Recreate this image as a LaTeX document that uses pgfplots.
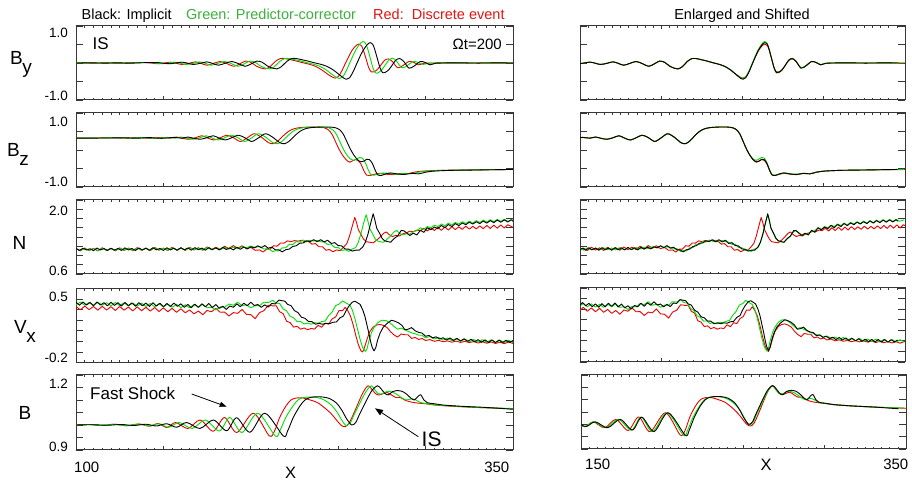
\documentclass[border=0pt]{standalone}
\usepackage{fontspec}
\setmainfont{Liberation Sans}
\usepackage{pgfplots}
\usepackage{pgfplotstable}
\pgfplotsset{compat=1.18}
\usetikzlibrary{arrows.meta}
\definecolor{lgreen}{RGB}{0,225,0}
\definecolor{lred}{RGB}{235,0,0}
\definecolor{tgreen}{RGB}{60,175,60}
\definecolor{tred}{RGB}{225,20,20}
\definecolor{frm}{RGB}{55,55,55}

% ---------------- By ----------------
\pgfplotstableread[row sep=\\]{x y\\
100 0\\ 110 0.002\\ 117 -0.003\\ 124 0.004\\ 131 -0.005\\ 139 0.008\\ 146.5 0.012\\ 153.5 -0.02\\ 160.5 0.022\\ 164 -0.008\\ 167.1 -0.04\\ 171 -0.01\\ 174.8 0.03\\ 178 -0.01\\ 181.4 -0.06\\ 185.2 -0.01\\ 189.1 0.04\\ 193 -0.02\\ 196.7 -0.09\\ 200 -0.03\\ 203.4 0.05\\ 206.5 0.02\\ 209.5 -0.08\\ 212.5 -0.14\\ 214.8 -0.16\\ 217.5 -0.10\\ 220.5 0.04\\ 223.4 0.12\\ 226 0.12\\ 229 0.09\\ 232 0.06\\ 236 0.01\\ 239.6 -0.03\\ 243.5 -0.09\\ 247.2 -0.19\\ 251 -0.33\\ 253.5 -0.42\\ 254.8 -0.44\\ 256.5 -0.40\\ 258.5 -0.24\\ 260.6 -0.02\\ 262.5 0.18\\ 264.4 0.35\\ 266.5 0.49\\ 268.2 0.55\\ 269.8 0.50\\ 271 0.35\\ 272.5 0.10\\ 274 -0.14\\ 275.4 -0.26\\ 277 -0.25\\ 279 -0.18\\ 281 -0.05\\ 283 0.08\\ 285.2 0.12\\ 287.5 0.04\\ 290.5 -0.14\\ 293.5 -0.08\\ 297 0.04\\ 300 0.01\\ 302.5 -0.05\\ 305.5 -0.01\\ 310 0\\ 320 0.003\\ 330 -0.002\\ 340 0.002\\ 350 0\\
}\byK
\pgfplotstableread[row sep=\\]{x y\\
96 0\\ 106 0.003\\ 113 -0.003\\ 120 0.004\\ 127 -0.005\\ 135 0.008\\ 142.5 0.012\\ 149.5 -0.02\\ 156.5 0.022\\ 160 -0.008\\ 163.1 -0.04\\ 167 -0.01\\ 170.8 0.03\\ 174 -0.01\\ 177.4 -0.06\\ 181.2 -0.01\\ 185.1 0.04\\ 189 -0.02\\ 192.7 -0.09\\ 196 -0.03\\ 199.4 0.05\\ 202.5 0.02\\ 205.5 -0.08\\ 208.5 -0.14\\ 210.8 -0.16\\ 213.5 -0.10\\ 216.5 0.04\\ 219.4 0.12\\ 222 0.12\\ 225 0.09\\ 228 0.06\\ 232 0.01\\ 235.6 -0.03\\ 239.5 -0.09\\ 243.2 -0.19\\ 247 -0.33\\ 249.5 -0.40\\ 250.8 -0.42\\ 252.5 -0.38\\ 254.5 -0.22\\ 256.6 0.0\\ 258.5 0.20\\ 260.4 0.38\\ 262.5 0.52\\ 264.2 0.58\\ 265.8 0.52\\ 267 0.36\\ 268.5 0.10\\ 270 -0.15\\ 271.4 -0.27\\ 273 -0.26\\ 275 -0.18\\ 277 -0.05\\ 279 0.08\\ 281.2 0.13\\ 283.5 0.04\\ 286.5 -0.13\\ 289.5 -0.07\\ 293 0.04\\ 296 0.01\\ 298.5 -0.04\\ 301.5 -0.01\\ 306 0\\ 316 0.003\\ 326 -0.002\\ 336 0.002\\ 350 0\\
}\byG
\pgfplotstableread[row sep=\\]{x y\\
100 0\\ 103.5 0.002\\ 110.5 -0.003\\ 117.5 0.004\\ 124.5 -0.005\\ 132.5 0.008\\ 140 0.012\\ 147 -0.02\\ 154 0.022\\ 157.5 -0.008\\ 160.6 -0.04\\ 164.5 -0.01\\ 168.3 0.03\\ 171.5 -0.01\\ 174.9 -0.06\\ 178.7 -0.01\\ 182.6 0.04\\ 186.5 -0.02\\ 190.2 -0.09\\ 193.5 -0.03\\ 196.9 0.05\\ 200 0.02\\ 203 -0.08\\ 206 -0.14\\ 208.3 -0.16\\ 211 -0.10\\ 214 0.04\\ 216.9 0.12\\ 219.5 0.12\\ 222.5 0.09\\ 225.5 0.06\\ 229.5 0.01\\ 233.1 -0.03\\ 237 -0.09\\ 240.7 -0.19\\ 244.5 -0.32\\ 247 -0.39\\ 248.3 -0.41\\ 250 -0.37\\ 252 -0.22\\ 254.1 -0.01\\ 256 0.17\\ 257.9 0.34\\ 260 0.46\\ 261.7 0.51\\ 263.3 0.47\\ 264.5 0.33\\ 266 0.10\\ 267.5 -0.13\\ 268.9 -0.24\\ 270.5 -0.24\\ 272.5 -0.17\\ 274.5 -0.05\\ 276.5 0.07\\ 278.7 0.11\\ 281 0.04\\ 284 -0.13\\ 287 -0.07\\ 290.5 0.04\\ 293.5 0.01\\ 296 -0.05\\ 299 -0.01\\ 304 0\\ 314 0.003\\ 324 -0.002\\ 334 0.002\\ 350 0\\
}\byR

% ---------------- Bz ----------------
\pgfplotstableread[row sep=\\]{x y\\
100 0.320\\ 110 0.322\\ 120 0.325\\ 128 0.33\\ 135 0.318\\ 142 0.335\\ 149 0.315\\ 156 0.34\\ 160.5 0.32\\ 164 0.35\\ 167.5 0.315\\ 171 0.29\\ 174.8 0.33\\ 178.5 0.385\\ 182 0.32\\ 185.5 0.27\\ 189 0.33\\ 192.8 0.40\\ 196.7 0.33\\ 200.5 0.23\\ 204.5 0.33\\ 208.5 0.44\\ 213 0.33\\ 216.5 0.20\\ 219.3 0.17\\ 222 0.24\\ 225 0.38\\ 228 0.50\\ 231 0.57\\ 234.5 0.605\\ 240 0.62\\ 245 0.62\\ 248.5 0.60\\ 251 0.54\\ 253 0.42\\ 255 0.22\\ 257 0.02\\ 259 -0.14\\ 261 -0.26\\ 263 -0.32\\ 264.8 -0.30\\ 266.3 -0.25\\ 267.8 -0.26\\ 269.5 -0.36\\ 271.2 -0.55\\ 272.8 -0.68\\ 274.5 -0.69\\ 277 -0.65\\ 280 -0.62\\ 284 -0.65\\ 288 -0.66\\ 292 -0.63\\ 296 -0.645\\ 300 -0.60\\ 305 -0.57\\ 315 -0.55\\ 330 -0.54\\ 350 -0.525\\
}\bzK
\pgfplotstableread[row sep=\\]{x y\\
96 0.320\\ 106 0.322\\ 116 0.325\\ 124 0.33\\ 131 0.318\\ 138 0.335\\ 145 0.315\\ 152 0.34\\ 156.5 0.32\\ 160 0.35\\ 163.5 0.315\\ 167 0.29\\ 170.8 0.33\\ 174.5 0.385\\ 178 0.32\\ 181.5 0.27\\ 185 0.33\\ 188.8 0.40\\ 192.7 0.33\\ 196.5 0.23\\ 200.5 0.33\\ 204.5 0.44\\ 209 0.33\\ 212.5 0.20\\ 215.3 0.17\\ 218 0.24\\ 221 0.38\\ 224 0.50\\ 227 0.57\\ 230.5 0.605\\ 236 0.62\\ 241 0.62\\ 244.5 0.60\\ 247 0.54\\ 249 0.42\\ 251 0.22\\ 253 0.02\\ 255 -0.14\\ 257 -0.24\\ 259 -0.28\\ 260.8 -0.24\\ 262.3 -0.20\\ 263.8 -0.22\\ 265.5 -0.34\\ 267.2 -0.54\\ 268.8 -0.67\\ 270.5 -0.68\\ 273 -0.65\\ 276 -0.62\\ 280 -0.64\\ 284 -0.655\\ 288 -0.63\\ 292 -0.64\\ 296 -0.60\\ 301 -0.57\\ 311 -0.55\\ 326 -0.54\\ 350 -0.525\\
}\bzG
\pgfplotstableread[row sep=\\]{x y\\
100 0.32\\ 103.5 0.322\\ 113.5 0.325\\ 121.5 0.33\\ 128.5 0.318\\ 135.5 0.335\\ 142.5 0.315\\ 149.5 0.34\\ 154 0.32\\ 157.5 0.35\\ 161 0.315\\ 164.5 0.29\\ 168.3 0.33\\ 172 0.385\\ 175.5 0.32\\ 179 0.27\\ 182.5 0.33\\ 186.3 0.40\\ 190.2 0.33\\ 194 0.23\\ 198 0.33\\ 202 0.44\\ 206.5 0.33\\ 210 0.20\\ 212.8 0.17\\ 215.5 0.24\\ 218.5 0.38\\ 221.5 0.50\\ 224.5 0.57\\ 228 0.605\\ 233.5 0.62\\ 238.5 0.62\\ 242 0.60\\ 244.5 0.54\\ 246.5 0.42\\ 248.5 0.22\\ 250.5 0.02\\ 252.5 -0.14\\ 254.5 -0.26\\ 256.5 -0.33\\ 258.3 -0.29\\ 259.8 -0.26\\ 261.3 -0.28\\ 263 -0.38\\ 264.7 -0.56\\ 266.3 -0.68\\ 268 -0.69\\ 270.5 -0.66\\ 273.5 -0.63\\ 277.5 -0.655\\ 281.5 -0.665\\ 285.5 -0.635\\ 289.5 -0.645\\ 293.5 -0.60\\ 298.5 -0.57\\ 308.5 -0.55\\ 323.5 -0.54\\ 343.5 -0.53\\ 350 -0.527\\
}\bzR

% ---------------- N ----------------
\pgfplotstableread[row sep=\\]{x y\\
100 1.15\\ 102 1.11\\ 104 1.158\\ 106 1.118\\ 108 1.145\\ 110 1.105\\ 112 1.16\\ 114 1.12\\ 116 1.15\\ 118 1.108\\ 120 1.158\\ 122 1.116\\ 124 1.152\\ 126 1.11\\ 128 1.165\\ 130 1.12\\ 132 1.15\\ 134 1.108\\ 136 1.162\\ 138 1.118\\ 140 1.156\\ 142 1.112\\ 144 1.168\\ 146 1.122\\ 148 1.152\\ 150 1.11\\ 152 1.166\\ 154 1.12\\ 156 1.158\\ 158 1.112\\ 160 1.168\\ 162 1.122\\ 164 1.162\\ 166 1.115\\ 168 1.17\\ 170 1.124\\ 172 1.16\\ 174 1.115\\ 176 1.17\\ 178 1.125\\ 180 1.165\\ 182 1.12\\ 184 1.175\\ 186 1.128\\ 188 1.165\\ 190 1.12\\ 192 1.178\\ 194 1.135\\ 196 1.182\\ 198 1.142\\ 200 1.188\\ 202 1.165\\ 204 1.21\\ 206 1.17\\ 208 1.214\\ 210 1.158\\ 212 1.18\\ 214 1.125\\ 216 1.122\\ 218 1.078\\ 220 1.126\\ 222 1.138\\ 224 1.196\\ 226 1.21\\ 228 1.265\\ 230 1.272\\ 232 1.318\\ 234 1.3\\ 236 1.342\\ 238 1.298\\ 240 1.342\\ 242 1.292\\ 244 1.33\\ 246 1.26\\ 248 1.278\\ 250 1.215\\ 252 1.208\\ 254 1.14\\ 256 1.138\\ 258 1.095\\ 260 1.115\\ 262 1.115\\ 264 1.182\\ 265.5 1.286\\ 267 1.457\\ 268.5 1.686\\ 270 1.903\\ 271 1.766\\ 272 1.594\\ 273.5 1.491\\ 275 1.377\\ 276.5 1.32\\ 278 1.303\\ 280 1.286\\ 282 1.368\\ 284 1.42\\ 286 1.54\\ 287.5 1.535\\ 289 1.494\\ 291 1.432\\ 293 1.483\\ 295 1.443\\ 297 1.545\\ 299 1.5\\ 301 1.6\\ 303 1.555\\ 305 1.615\\ 307 1.58\\ 309 1.65\\ 311 1.6\\ 313 1.67\\ 315 1.625\\ 317 1.69\\ 319 1.645\\ 321 1.705\\ 323 1.665\\ 325 1.72\\ 327 1.68\\ 329 1.73\\ 331 1.69\\ 333 1.745\\ 335 1.7\\ 337 1.755\\ 339 1.71\\ 341 1.765\\ 343 1.72\\ 345 1.77\\ 347 1.725\\ 349 1.775\\ 350 1.74\\
}\nK
\pgfplotstableread[row sep=\\]{x y\\
100 1.145\\ 102.5 1.11\\ 105 1.152\\ 107.5 1.112\\ 110 1.148\\ 112.5 1.108\\ 115 1.155\\ 117.5 1.115\\ 120 1.15\\ 122.5 1.11\\ 125 1.158\\ 127.5 1.118\\ 130 1.152\\ 132.5 1.112\\ 135 1.16\\ 137.5 1.12\\ 140 1.155\\ 142.5 1.114\\ 145 1.162\\ 147.5 1.12\\ 150 1.158\\ 152.5 1.116\\ 155 1.165\\ 157.5 1.122\\ 160 1.16\\ 162.5 1.118\\ 165 1.168\\ 167.5 1.125\\ 170 1.162\\ 172.5 1.12\\ 175 1.17\\ 177.5 1.128\\ 180 1.165\\ 182.5 1.125\\ 185 1.172\\ 187.5 1.14\\ 190 1.18\\ 192.5 1.15\\ 195 1.19\\ 197.5 1.17\\ 200 1.205\\ 202.5 1.172\\ 205 1.195\\ 207.5 1.14\\ 210 1.15\\ 212.5 1.085\\ 214 1.105\\ 216 1.098\\ 218 1.165\\ 220 1.168\\ 222 1.245\\ 224 1.236\\ 226 1.302\\ 228 1.29\\ 230 1.335\\ 232 1.31\\ 234 1.33\\ 236 1.312\\ 238 1.325\\ 240 1.298\\ 242 1.29\\ 244 1.24\\ 246 1.245\\ 248 1.172\\ 250 1.17\\ 252 1.11\\ 254 1.125\\ 256 1.088\\ 258 1.14\\ 260 1.171\\ 261.5 1.286\\ 263 1.469\\ 264.5 1.697\\ 266 1.88\\ 267 1.743\\ 268 1.583\\ 269.5 1.48\\ 271 1.366\\ 272.5 1.314\\ 274 1.297\\ 276 1.286\\ 278 1.354\\ 280 1.423\\ 282 1.514\\ 283.5 1.543\\ 285 1.48\\ 287 1.446\\ 289 1.469\\ 291 1.463\\ 293 1.514\\ 295 1.537\\ 297 1.6\\ 299 1.565\\ 301 1.625\\ 303 1.6\\ 305 1.655\\ 307 1.625\\ 309 1.68\\ 311 1.645\\ 313 1.7\\ 315 1.66\\ 317 1.715\\ 319 1.68\\ 321 1.73\\ 323 1.69\\ 325 1.745\\ 327 1.7\\ 329 1.755\\ 331 1.71\\ 333 1.765\\ 335 1.72\\ 337 1.775\\ 339 1.73\\ 341 1.78\\ 343 1.735\\ 345 1.785\\ 347 1.74\\ 350 1.77\\
}\nG
\pgfplotstableread[row sep=\\]{x y\\
100 1.15\\ 102.5 1.1\\ 105 1.16\\ 107.5 1.108\\ 110 1.155\\ 112.5 1.098\\ 115 1.168\\ 117.5 1.11\\ 120 1.152\\ 122.5 1.1\\ 125 1.165\\ 127.5 1.11\\ 130 1.16\\ 132.5 1.104\\ 135 1.17\\ 137.5 1.112\\ 140 1.162\\ 142.5 1.106\\ 145 1.175\\ 147.5 1.114\\ 150 1.16\\ 152.5 1.108\\ 155 1.18\\ 157.5 1.116\\ 160 1.165\\ 162.5 1.11\\ 165 1.178\\ 167.5 1.12\\ 170 1.168\\ 172.5 1.112\\ 175 1.185\\ 177.5 1.125\\ 180 1.18\\ 182.5 1.13\\ 185 1.2\\ 187.5 1.148\\ 190 1.215\\ 192.5 1.155\\ 195 1.21\\ 197.5 1.148\\ 200 1.175\\ 202.5 1.112\\ 205 1.12\\ 207 1.075\\ 209 1.138\\ 211 1.136\\ 213 1.212\\ 215 1.2\\ 217 1.27\\ 219 1.268\\ 221 1.316\\ 223 1.3\\ 225 1.322\\ 227 1.31\\ 229 1.328\\ 231 1.298\\ 233 1.304\\ 235 1.245\\ 237 1.258\\ 239 1.188\\ 241 1.19\\ 243 1.112\\ 245 1.13\\ 247 1.08\\ 249 1.12\\ 251 1.105\\ 253 1.175\\ 255 1.263\\ 256.5 1.423\\ 258 1.629\\ 259.5 1.823\\ 260.5 1.709\\ 261.5 1.56\\ 263 1.457\\ 264.5 1.354\\ 266 1.297\\ 268 1.286\\ 270 1.274\\ 272 1.331\\ 274 1.4\\ 276 1.48\\ 277.5 1.509\\ 279 1.457\\ 281 1.411\\ 283 1.434\\ 285 1.423\\ 287 1.469\\ 289 1.491\\ 291 1.526\\ 293 1.514\\ 295 1.549\\ 297 1.537\\ 299 1.59\\ 301 1.53\\ 303 1.6\\ 305 1.54\\ 307 1.61\\ 309 1.545\\ 311 1.615\\ 313 1.55\\ 315 1.625\\ 317 1.56\\ 319 1.62\\ 321 1.565\\ 323 1.635\\ 325 1.57\\ 327 1.63\\ 329 1.575\\ 331 1.64\\ 333 1.58\\ 335 1.65\\ 337 1.585\\ 339 1.655\\ 341 1.59\\ 343 1.66\\ 345 1.595\\ 347 1.665\\ 350 1.61\\
}\nR

% ---------------- Vx ----------------
\pgfplotstableread[row sep=\\]{x y\\
100 0.37\\ 102 0.342\\ 104 0.372\\ 106 0.344\\ 108 0.368\\ 110 0.338\\ 112 0.372\\ 114 0.343\\ 116 0.366\\ 118 0.336\\ 120 0.37\\ 122 0.34\\ 124 0.366\\ 126 0.334\\ 128 0.368\\ 130 0.338\\ 132 0.364\\ 134 0.332\\ 136 0.366\\ 138 0.336\\ 140 0.362\\ 142 0.33\\ 144 0.365\\ 146 0.334\\ 148 0.36\\ 150 0.328\\ 152 0.358\\ 154 0.33\\ 156 0.362\\ 158 0.332\\ 160 0.355\\ 162 0.322\\ 164 0.35\\ 166 0.318\\ 168 0.352\\ 170 0.322\\ 172 0.355\\ 174 0.327\\ 176 0.358\\ 178 0.32\\ 180 0.348\\ 182 0.312\\ 184 0.332\\ 186 0.302\\ 188 0.335\\ 190 0.322\\ 192 0.355\\ 194 0.327\\ 196 0.36\\ 198 0.337\\ 200 0.37\\ 202 0.34\\ 204 0.348\\ 206 0.322\\ 208 0.345\\ 210 0.324\\ 212 0.358\\ 214 0.354\\ 216 0.39\\ 217.7 0.385\\ 219.5 0.38\\ 221 0.35\\ 223 0.338\\ 225 0.29\\ 227 0.272\\ 229 0.228\\ 231 0.218\\ 233 0.188\\ 235 0.186\\ 237 0.162\\ 239 0.17\\ 241 0.162\\ 243 0.17\\ 245 0.167\\ 247 0.18\\ 249 0.184\\ 251 0.222\\ 253 0.24\\ 254.5 0.29\\ 256 0.33\\ 258 0.37\\ 259.6 0.38\\ 261 0.365\\ 262.5 0.35\\ 264 0.3\\ 265.3 0.235\\ 266.5 0.15\\ 267.5 0.08\\ 268.5 0.0\\ 269.5 -0.06\\ 270.5 -0.09\\ 271.5 -0.06\\ 272.5 0.01\\ 274 0.08\\ 275.8 0.135\\ 278 0.17\\ 280.5 0.2\\ 282.5 0.19\\ 284.5 0.175\\ 286.5 0.15\\ 288.2 0.11\\ 290 0.115\\ 292 0.13\\ 294 0.1\\ 296 0.085\\ 298 0.078\\ 300 0.048\\ 302 0.056\\ 304 0.033\\ 306 0.043\\ 308 0.022\\ 310 0.034\\ 312 0.012\\ 314 0.032\\ 316 0.008\\ 318 0.028\\ 320 0.004\\ 322 0.024\\ 324 0.0\\ 326 0.02\\ 328 -0.004\\ 330 0.016\\ 332 -0.008\\ 334 0.014\\ 336 -0.01\\ 338 0.013\\ 340 -0.011\\ 342 0.012\\ 344 -0.012\\ 346 0.011\\ 348 -0.01\\ 350 0.008\\
}\vxK
\pgfplotstableread[row sep=\\]{x y\\
100 0.345\\ 102.5 0.372\\ 105 0.342\\ 107.5 0.368\\ 110 0.338\\ 112.5 0.37\\ 115 0.342\\ 117.5 0.366\\ 120 0.336\\ 122.5 0.368\\ 125 0.339\\ 127.5 0.364\\ 130 0.334\\ 132.5 0.363\\ 135 0.332\\ 137.5 0.36\\ 140 0.33\\ 142.5 0.358\\ 145 0.328\\ 147.5 0.356\\ 150 0.327\\ 152.5 0.353\\ 155 0.322\\ 157.5 0.35\\ 160 0.32\\ 162.5 0.346\\ 165 0.317\\ 167.5 0.348\\ 170 0.322\\ 172.5 0.35\\ 175 0.317\\ 177.5 0.323\\ 180 0.297\\ 182.5 0.326\\ 185 0.322\\ 187.5 0.353\\ 190 0.342\\ 192.5 0.37\\ 195 0.337\\ 197.5 0.346\\ 200 0.317\\ 202.5 0.338\\ 205 0.337\\ 207.5 0.37\\ 210 0.367\\ 212.5 0.388\\ 214.5 0.362\\ 216.5 0.358\\ 218.5 0.307\\ 220.5 0.288\\ 222.5 0.237\\ 224.5 0.223\\ 226.5 0.187\\ 228.5 0.188\\ 230.5 0.164\\ 232.5 0.173\\ 234.5 0.162\\ 236.5 0.176\\ 238.5 0.172\\ 240.5 0.186\\ 242.5 0.192\\ 244.5 0.243\\ 246.5 0.277\\ 248.5 0.338\\ 250.5 0.352\\ 252.5 0.383\\ 254.5 0.362\\ 256.5 0.345\\ 258 0.3\\ 259.5 0.22\\ 261 0.12\\ 262.5 0.02\\ 264 -0.06\\ 265.5 -0.095\\ 266.5 -0.07\\ 267.5 0.0\\ 269 0.08\\ 270.5 0.13\\ 272.5 0.175\\ 275 0.2\\ 277.5 0.195\\ 280 0.17\\ 282 0.14\\ 284 0.115\\ 286 0.125\\ 288 0.11\\ 290 0.095\\ 292 0.08\\ 294 0.072\\ 296 0.058\\ 298 0.058\\ 300 0.034\\ 302.5 0.046\\ 305 0.022\\ 307.5 0.036\\ 310 0.012\\ 312.5 0.032\\ 315 0.006\\ 317.5 0.026\\ 320 0.0\\ 322.5 0.022\\ 325 -0.004\\ 327.5 0.018\\ 330 -0.008\\ 332.5 0.016\\ 335 -0.01\\ 337.5 0.014\\ 340 -0.012\\ 342.5 0.012\\ 345 -0.011\\ 347.5 0.011\\ 350 -0.01\\
}\vxG
\pgfplotstableread[row sep=\\]{x y\\
100 0.33\\ 102.5 0.298\\ 105 0.334\\ 107.5 0.3\\ 110 0.33\\ 112.5 0.295\\ 115 0.332\\ 117.5 0.296\\ 120 0.328\\ 122.5 0.292\\ 125 0.33\\ 127.5 0.295\\ 130 0.324\\ 132.5 0.288\\ 135 0.326\\ 137.5 0.29\\ 140 0.322\\ 142.5 0.286\\ 145 0.32\\ 147.5 0.282\\ 150 0.317\\ 152.5 0.28\\ 155 0.312\\ 157.5 0.275\\ 160 0.308\\ 162.5 0.27\\ 165 0.297\\ 167.5 0.26\\ 170 0.287\\ 172.5 0.252\\ 175 0.292\\ 177.5 0.28\\ 180 0.312\\ 182.5 0.275\\ 185 0.277\\ 187.5 0.24\\ 190 0.272\\ 192.5 0.265\\ 195 0.302\\ 197.5 0.255\\ 200 0.252\\ 202.5 0.215\\ 205 0.272\\ 207.5 0.29\\ 210 0.342\\ 212.5 0.335\\ 214.5 0.337\\ 216.5 0.28\\ 218.5 0.262\\ 220.5 0.19\\ 222.5 0.177\\ 224.5 0.135\\ 226.5 0.142\\ 228.5 0.115\\ 230.5 0.127\\ 232.5 0.11\\ 234.5 0.122\\ 236.5 0.116\\ 238.5 0.152\\ 240.5 0.133\\ 242.5 0.172\\ 244.5 0.163\\ 246.5 0.212\\ 248.5 0.23\\ 250.5 0.292\\ 252.5 0.29\\ 254 0.322\\ 255.5 0.29\\ 257 0.24\\ 258.5 0.16\\ 260 0.06\\ 261.5 -0.03\\ 263 -0.09\\ 264 -0.1\\ 265 -0.06\\ 266.5 0.02\\ 268 0.09\\ 270 0.135\\ 272 0.155\\ 274 0.16\\ 276 0.15\\ 278 0.13\\ 280 0.09\\ 282 0.06\\ 284 0.04\\ 286 0.07\\ 288 0.063\\ 290 0.062\\ 292 0.028\\ 294 0.037\\ 296 0.018\\ 298 0.027\\ 300 0.008\\ 302.5 0.017\\ 305 0.0\\ 307.5 0.01\\ 310 -0.004\\ 312.5 0.004\\ 315 -0.008\\ 317.5 0.002\\ 320 -0.01\\ 322.5 0.0\\ 325 -0.012\\ 327.5 -0.002\\ 330 -0.016\\ 332.5 -0.004\\ 335 -0.018\\ 337.5 -0.006\\ 340 -0.02\\ 342.5 -0.008\\ 345 -0.022\\ 347.5 -0.006\\ 350 -0.02\\
}\vxR

% ---------------- B ----------------
\pgfplotstableread[row sep=\\]{x y\\
100 1.0\\ 110 1.001\\ 118 0.999\\ 126 1.002\\ 133 0.998\\ 140 1.003\\ 146 0.996\\ 151.9 1.005\\ 157.6 0.991\\ 163.3 1.01\\ 170.9 0.986\\ 178.6 1.02\\ 186.2 0.977\\ 191.9 1.029\\ 199.5 0.971\\ 208.1 1.047\\ 218.6 0.956\\ 221 0.975\\ 224.3 1.03\\ 228 1.075\\ 231 1.1\\ 234 1.11\\ 237.7 1.113\\ 241 1.112\\ 245 1.106\\ 249 1.088\\ 252 1.06\\ 254.8 1.025\\ 257.7 1.0\\ 260 1.01\\ 262 1.04\\ 264.5 1.075\\ 267 1.11\\ 269.5 1.14\\ 272.4 1.157\\ 274.5 1.145\\ 276.5 1.128\\ 278.6 1.12\\ 281 1.133\\ 284 1.138\\ 286.5 1.135\\ 289 1.124\\ 291.5 1.108\\ 293.5 1.1\\ 295.5 1.113\\ 297.2 1.121\\ 299 1.1\\ 301 1.089\\ 305 1.085\\ 310 1.08\\ 320 1.075\\ 335 1.07\\ 350 1.063\\
}\bK
\pgfplotstableread[row sep=\\]{x y\\
100 1.0\\ 107 1.002\\ 114 0.998\\ 122 1.003\\ 129 0.997\\ 136 1.004\\ 142 0.996\\ 147.5 1.005\\ 153 0.991\\ 159 1.01\\ 166.5 0.986\\ 174 1.02\\ 182 0.976\\ 188 1.03\\ 195 0.97\\ 204 1.047\\ 214 0.956\\ 216.5 0.975\\ 220 1.03\\ 224 1.075\\ 227 1.1\\ 230 1.11\\ 234 1.112\\ 238 1.11\\ 242 1.1\\ 246 1.08\\ 249.5 1.05\\ 252 1.02\\ 254.5 0.998\\ 257 1.01\\ 259 1.04\\ 261.5 1.075\\ 264 1.11\\ 266.5 1.14\\ 269 1.157\\ 271 1.14\\ 273 1.125\\ 275.5 1.125\\ 278 1.135\\ 280.5 1.132\\ 283 1.125\\ 286 1.11\\ 289 1.1\\ 292 1.105\\ 294.5 1.1\\ 297 1.09\\ 301 1.085\\ 306 1.08\\ 315 1.076\\ 330 1.07\\ 350 1.066\\
}\bG
\pgfplotstableread[row sep=\\]{x y\\
100 1.0\\ 108 1.002\\ 115 0.998\\ 122 1.003\\ 129 0.997\\ 136 1.004\\ 142 0.995\\ 147 1.006\\ 152 0.99\\ 157 1.01\\ 164 0.986\\ 171 1.02\\ 178.5 0.975\\ 185 1.03\\ 192 0.97\\ 201.5 1.047\\ 210.5 0.957\\ 213.5 0.975\\ 216.5 1.03\\ 220 1.075\\ 223 1.1\\ 226 1.108\\ 230 1.108\\ 234 1.1\\ 238 1.09\\ 242 1.07\\ 246 1.045\\ 249 1.02\\ 251.5 1.0\\ 253.8 0.993\\ 256 1.005\\ 258.5 1.04\\ 261 1.08\\ 263.5 1.12\\ 265.5 1.145\\ 267.2 1.157\\ 269 1.145\\ 271 1.128\\ 273 1.12\\ 275.5 1.125\\ 278 1.13\\ 280.5 1.12\\ 283 1.11\\ 285.5 1.11\\ 288 1.1\\ 291 1.093\\ 295 1.088\\ 300 1.085\\ 305 1.08\\ 315 1.075\\ 330 1.07\\ 350 1.065\\
}\bR

\pgfplotsset{
  panel/.style={
    scale only axis, anchor=south west, height=74bp,
    axis line style={frm, line width=1bp},
    tick align=inside, tick pos=both,
    xticklabels={}, yticklabels={},
    minor tick length=2.2bp,
    tick style={frm, line width=0.7bp},
    xtick style={/pgfplots/major tick length=3.5bp},
    ytick style={/pgfplots/major tick length=7bp},
    xtick distance=50, minor x tick num=9,
    every axis plot/.append style={line width=0.9bp, line join=round, mark=none},
  },
  lp/.style={panel, width=437bp, xmin=100, xmax=350},
  rp/.style={panel, width=325bp, xmin=150, xmax=350},
  byax/.style={ymin=-1, ymax=1, ytick={-1,-0.5,0,0.5,1}},
  nax/.style={ymin=0.6, ymax=2.2, ytick={0.6,0.8,1.0,1.2,1.4,1.6,1.8,2.0,2.2}},
  vxax/.style={ymin=-0.2, ymax=0.5, ytick={-0.2,-0.1,0,0.1,0.2,0.3,0.4,0.5}},
  bax/.style={ymin=0.9, ymax=1.2, ytick={0.9,0.95,1.0,1.05,1.1,1.15,1.2}},
}
\newcommand{\tl}{\fontsize{13.5bp}{16bp}\selectfont}
\newcommand{\yl}{\fontsize{19bp}{22bp}\selectfont}

\begin{document}
\begin{tikzpicture}[x=1bp,y=1bp]
\path[use as bounding box] (0,0) rectangle (912,483);

% ===== left column =====
\begin{axis}[lp, byax, at={(76bp,383bp)}]
\addplot[lred, smooth, tension=0.5] table{\byR};
\addplot[lgreen, smooth, tension=0.5] table{\byG};
\addplot[black, smooth, tension=0.5] table{\byK};
\end{axis}
\begin{axis}[lp, byax, at={(76bp,296bp)}]
\addplot[lred, smooth, tension=0.5] table{\bzR};
\addplot[lgreen, smooth, tension=0.5] table{\bzG};
\addplot[black, smooth, tension=0.5] table{\bzK};
\end{axis}
\begin{axis}[lp, nax, at={(76bp,209bp)}]
\addplot[lred] table{\nR};
\addplot[lgreen] table{\nG};
\addplot[black] table{\nK};
\end{axis}
\begin{axis}[lp, vxax, at={(76bp,120.5bp)}]
\addplot[lred] table{\vxR};
\addplot[lgreen] table{\vxG};
\addplot[black] table{\vxK};
\end{axis}
\begin{axis}[lp, bax, at={(76bp,33bp)}, height=75bp]
\addplot[lred, smooth, tension=0.5] table{\bR};
\addplot[lgreen, smooth, tension=0.5] table{\bG};
\addplot[black, smooth, tension=0.5] table{\bK};
\end{axis}

% ===== right column (enlarged and shifted) =====
\begin{axis}[rp, byax, at={(580bp,383bp)}]
\addplot[lred, smooth, tension=0.5] table[x expr=\thisrow{x}+2, y=y]{\byR};
\addplot[lgreen, smooth, tension=0.5] table[x expr=\thisrow{x}-0.5, y=y]{\byG};
\addplot[black, smooth, tension=0.5] table[x expr=\thisrow{x}-4.5, y=y]{\byK};
\end{axis}
\begin{axis}[rp, byax, at={(580bp,296bp)}]
\addplot[lred, smooth, tension=0.5] table[x expr=\thisrow{x}+2, y=y]{\bzR};
\addplot[lgreen, smooth, tension=0.5] table[x expr=\thisrow{x}-0.5, y=y]{\bzG};
\addplot[black, smooth, tension=0.5] table[x expr=\thisrow{x}-4.5, y=y]{\bzK};
\end{axis}
\begin{axis}[rp, nax, at={(580bp,209bp)}]
\addplot[lred] table[x expr=\thisrow{x}+2, y=y]{\nR};
\addplot[lgreen] table[x expr=\thisrow{x}-0.5, y=y]{\nG};
\addplot[black] table[x expr=\thisrow{x}-4.5, y=y]{\nK};
\end{axis}
\begin{axis}[rp, vxax, at={(580bp,121bp)}]
\addplot[lred] table[x expr=\thisrow{x}+2, y=y]{\vxR};
\addplot[lgreen] table[x expr=\thisrow{x}-0.5, y=y]{\vxG};
\addplot[black] table[x expr=\thisrow{x}-4.5, y=y]{\vxK};
\end{axis}
\begin{axis}[rp, bax, at={(581bp,34bp)}, height=74bp]
\addplot[lred, smooth, tension=0.5] table[x expr=\thisrow{x}+0.5, y=y]{\bR};
\addplot[lgreen, smooth, tension=0.5] table[x expr=\thisrow{x}-1, y=y]{\bG};
\addplot[black, smooth, tension=0.5] table[x expr=\thisrow{x}-4.5, y=y]{\bK};
\end{axis}

% ===== header =====
\node[anchor=base west, inner sep=0] at (81.5,463.7) {\fontsize{14.5bp}{17bp}\selectfont Black: Implicit};
\node[anchor=base west, inner sep=0, text=tgreen] at (186,463.7) {\fontsize{14.5bp}{17bp}\selectfont Green: Predictor-corrector};
\node[anchor=base west, inner sep=0, text=tred] at (373,463.7) {\fontsize{14.5bp}{17bp}\selectfont Red:\ \ Discrete event};
\node[anchor=base, inner sep=0] at (742,463.7) {\fontsize{14.5bp}{17bp}\selectfont Enlarged and Shifted};

% ===== in-panel labels =====
\node[anchor=base west, inner sep=0] at (92.5,433.7) {\fontsize{17bp}{20bp}\selectfont IS};
\node[anchor=base east, inner sep=0] at (502,433.7) {\fontsize{15bp}{18bp}\selectfont Ωt=200};

% ===== y labels =====
\node[anchor=base west, inner sep=0] at (10,418) {\yl B\kern-0.5bp\raisebox{-8.5bp}{y}};
\node[anchor=base west, inner sep=0] at (7,326.3) {\yl B\kern-0.5bp\raisebox{-9bp}{z}};
\node[anchor=base west, inner sep=0] at (12.5,233) {\yl N};
\node[anchor=base west, inner sep=0] at (14,149.7) {\yl V\kern-0.5bp\raisebox{-9bp}{x}};
\node[anchor=base west, inner sep=0] at (18.5,63) {\yl B};

% ===== y tick labels (ends only) =====
\node[anchor=east, inner sep=0] at (68,449.7) {\tl 1.0};
\node[anchor=east, inner sep=0] at (68,387) {\tl -1.0};
\node[anchor=east, inner sep=0] at (68,361.3) {\tl 1.0};
\node[anchor=east, inner sep=0] at (68,301.3) {\tl -1.0};
\node[anchor=east, inner sep=0] at (68,272.3) {\tl 2.0};
\node[anchor=east, inner sep=0] at (68,212.3) {\tl 0.6};
\node[anchor=east, inner sep=0] at (68,185.7) {\tl 0.5};
\node[anchor=east, inner sep=0] at (68,124.7) {\tl -0.2};
\node[anchor=east, inner sep=0] at (68,99.7) {\tl 1.2};
\node[anchor=east, inner sep=0] at (68,36.3) {\tl 0.9};

% ===== x labels =====
\node[anchor=base west, inner sep=0] at (74,10.3) {\fontsize{15bp}{18bp}\selectfont 100};
\node[anchor=base east, inner sep=0] at (509.5,10.3) {\fontsize{15bp}{18bp}\selectfont 350};
\node[anchor=base, inner sep=0] at (290.5,4.7) {\fontsize{16.5bp}{19bp}\selectfont X};
\node[anchor=base west, inner sep=0] at (585,13) {\fontsize{15bp}{18bp}\selectfont 150};
\node[anchor=base east, inner sep=0] at (908.5,13) {\fontsize{15bp}{18bp}\selectfont 350};
\node[anchor=base, inner sep=0] at (766,12.5) {\fontsize{16.5bp}{19bp}\selectfont X};

% ===== annotations in B panel =====
\node[anchor=base west, inner sep=0] at (90,83.7) {\fontsize{17bp}{20bp}\selectfont Fast Shock};
\draw[-{Triangle[length=7bp,width=5bp]}, line width=0.8bp] (191.7,89) -- (226.7,76.3);
\node[anchor=base west, inner sep=0] at (421.5,36.3) {\fontsize{21bp}{24bp}\selectfont IS};
\draw[-{Triangle[length=8bp,width=6bp]}, line width=0.8bp] (418.3,46.3) -- (375,74.7);
\end{tikzpicture}
\end{document}
